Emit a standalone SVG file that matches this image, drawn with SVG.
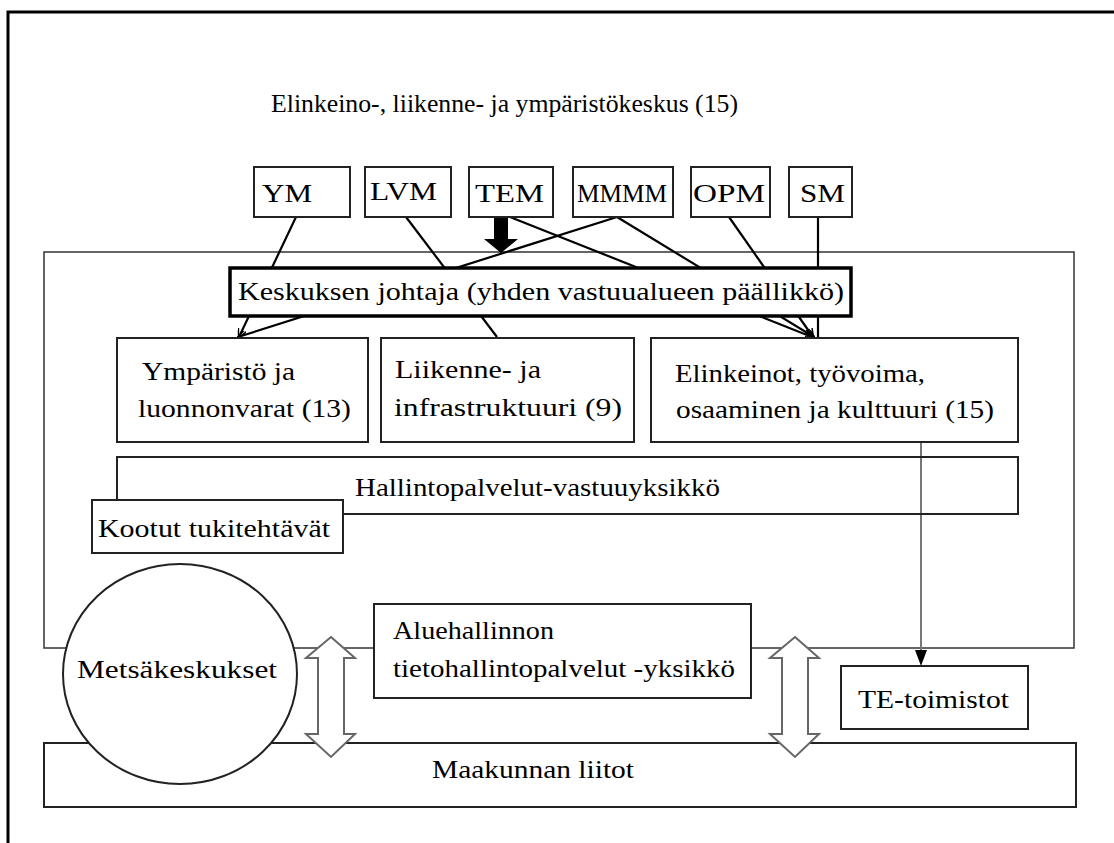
<svg xmlns="http://www.w3.org/2000/svg" width="1114" height="843" viewBox="0 0 1114 843">
<defs>
<style>
text{font-family:"Liberation Serif","Times New Roman",serif;font-size:26px;fill:#000}
.box{fill:#fff;stroke:#222;stroke-width:2}
.thin{fill:none;stroke:#333;stroke-width:1.5}
.ln{stroke:#000;stroke-width:2.2;fill:none}
.dbl{fill:#fff;stroke:#666;stroke-width:2}
</style>
<marker id="ah" viewBox="0 0 10 10" refX="9" refY="5" markerWidth="9" markerHeight="9" markerUnits="userSpaceOnUse" orient="auto">
<path d="M0,0 L10,5 L0,10" fill="none" stroke="#000" stroke-width="1.6"/>
</marker>
</defs>
<rect width="1114" height="843" fill="#fff"/>
<path d="M8,843 V12 H1114" fill="none" stroke="#000" stroke-width="3"/>
<text id="title" x="271" y="112" textLength="467" lengthAdjust="spacingAndGlyphs">Elinkeino-, liikenne- ja ympäristökeskus (15)</text>
<g id="container"><rect x="44" y="252" width="1030" height="396" class="thin"/></g>
<g id="maakunta"><rect x="44" y="743" width="1032" height="64" class="box"/><text x="432" y="778" textLength="202" lengthAdjust="spacingAndGlyphs">Maakunnan liitot</text></g>
<g id="connectors">
<line class="ln" x1="296" y1="217" x2="239" y2="337" marker-end="url(#ah)"/>
<line class="ln" x1="617" y1="217" x2="238" y2="337" marker-end="url(#ah)"/>
<line class="ln" x1="406" y1="217" x2="497" y2="337"/>
<line class="ln" x1="510" y1="217" x2="812" y2="337" marker-end="url(#ah)"/>
<line class="ln" x1="617" y1="217" x2="814" y2="337" marker-end="url(#ah)"/>
<line class="ln" x1="729" y1="217" x2="813" y2="337" marker-end="url(#ah)"/>
<line class="ln" x1="818" y1="217" x2="818" y2="337"/>
<polygon points="494,217 508,217 508,239 518,239 501,253 484,239 494,239" fill="#000"/>
<line x1="921" y1="442" x2="921" y2="652" stroke="#777" stroke-width="2"/>
<polygon points="915,650 927,650 921,666" fill="#000"/>
<polygon class="dbl" points="331,637 355,658 344,658 344,734 355,734 331,757 306,734 318,734 318,658 306,658"/>
<polygon class="dbl" points="795,637 819,658 808,658 808,734 819,734 795,757 770,734 782,734 782,658 770,658"/>
</g>
<g id="ym"><rect x="254" y="167" width="96" height="50" class="box"/><text x="262" y="202" textLength="50" lengthAdjust="spacingAndGlyphs">YM</text></g>
<g id="lvm"><rect x="365" y="167" width="86" height="50" class="box"/><text x="370" y="200" textLength="67" lengthAdjust="spacingAndGlyphs">LVM</text></g>
<g id="tem"><rect x="469" y="167" width="84" height="50" class="box"/><text x="475" y="202" textLength="69" lengthAdjust="spacingAndGlyphs">TEM</text></g>
<g id="mmmm"><rect x="573" y="167" width="100" height="50" class="box"/><text x="577" y="202" textLength="90" lengthAdjust="spacingAndGlyphs">MMMM</text></g>
<g id="opm"><rect x="691" y="167" width="79" height="50" class="box"/><text x="693" y="202" textLength="72" lengthAdjust="spacingAndGlyphs">OPM</text></g>
<g id="sm"><rect x="789" y="167" width="63" height="50" class="box"/><text x="800" y="202" textLength="45" lengthAdjust="spacingAndGlyphs">SM</text></g>
<g id="johtaja"><rect x="230" y="268" width="621" height="48" fill="#fff" stroke="#000" stroke-width="3.5"/><text x="238" y="300" textLength="606" lengthAdjust="spacingAndGlyphs">Keskuksen johtaja (yhden vastuualueen päällikkö)</text></g>
<g id="ymparisto"><rect x="117" y="338" width="251" height="104" class="box"/><text x="142" y="380" textLength="153" lengthAdjust="spacingAndGlyphs">Ympäristö ja</text><text x="138" y="417" textLength="213" lengthAdjust="spacingAndGlyphs">luonnonvarat (13)</text></g>
<g id="liikenne"><rect x="381" y="338" width="253" height="104" class="box"/><text x="395" y="378" textLength="146" lengthAdjust="spacingAndGlyphs">Liikenne- ja</text><text x="394" y="416" textLength="228" lengthAdjust="spacingAndGlyphs">infrastruktuuri (9)</text></g>
<g id="elinkeinot"><rect x="651" y="338" width="367" height="104" class="box"/><text x="675" y="382" textLength="250" lengthAdjust="spacingAndGlyphs">Elinkeinot, työvoima,</text><text x="676" y="418" textLength="318" lengthAdjust="spacingAndGlyphs">osaaminen ja kulttuuri (15)</text></g>
<g id="hallinto"><rect x="117" y="457" width="901" height="57" fill="none" stroke="#222" stroke-width="2"/><text x="355" y="496" textLength="365" lengthAdjust="spacingAndGlyphs">Hallintopalvelut-vastuuyksikkö</text></g>
<g id="kootut"><rect x="92" y="500" width="251" height="53" class="box"/><text x="98" y="537" textLength="232" lengthAdjust="spacingAndGlyphs">Kootut tukitehtävät</text></g>
<g id="metsa"><ellipse cx="180" cy="674" rx="117" ry="110" class="box" stroke-width="1.5"/><text x="77" y="678" textLength="200" lengthAdjust="spacingAndGlyphs">Metsäkeskukset</text></g>
<g id="tieto"><rect x="374" y="604" width="377" height="94" class="box"/><text x="393" y="639" textLength="161" lengthAdjust="spacingAndGlyphs">Aluehallinnon</text><text x="393" y="677" textLength="342" lengthAdjust="spacingAndGlyphs">tietohallintopalvelut -yksikkö</text></g>
<g id="te"><rect x="841" y="666" width="187" height="63" class="box"/><text x="858" y="708" textLength="151" lengthAdjust="spacingAndGlyphs">TE-toimistot</text></g>
</svg>
